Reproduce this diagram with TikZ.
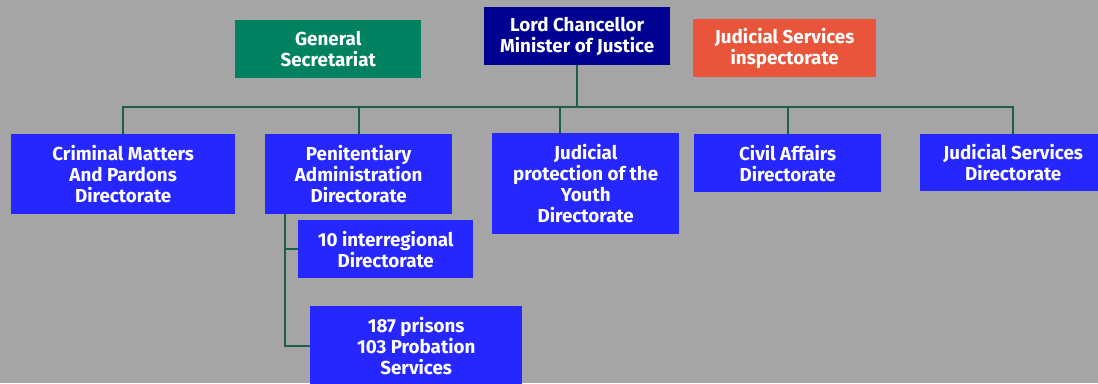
\documentclass[tikz,border=0pt]{standalone}
\usepackage{fontspec}
\setmainfont{Fira Sans}
\definecolor{bg}{RGB}{165,165,165}
\definecolor{boxblue}{RGB}{38,38,255}
\definecolor{navy}{RGB}{0,0,145}
\definecolor{gsgreen}{RGB}{0,130,96}
\definecolor{orng}{RGB}{232,85,58}
\definecolor{linegreen}{RGB}{30,95,75}
\begin{document}
\begin{tikzpicture}[x=1pt,y=-1pt,
  org/.style={fill=boxblue,text=white,font=\bfseries\fontsize{18.8}{21}\selectfont,align=center,inner sep=0pt,anchor=north west},
  conn/.style={draw=linegreen,line width=1.6pt}]
\clip (0,0) rectangle (1098,383);
\fill[bg] (0,0) rectangle (1098,383);
% boxes
\node[org,fill=gsgreen,minimum width=186pt,minimum height=58pt] (gs) at (235,20) {General\\Secretariat};
\node[org,fill=navy,minimum width=186pt,minimum height=58pt] (lc) at (484,7) {Lord Chancellor\\Minister of Justice};
\node[org,fill=orng,minimum width=183pt,minimum height=58pt] (jsi) at (693,19) {Judicial Services\\inspectorate};
\node[org,minimum width=224pt,minimum height=80pt] (cm) at (11,134) {Criminal Matters\\And Pardons\\Directorate};
\node[org,minimum width=187pt,minimum height=80pt] (pa) at (265,134) {Penitentiary\\Administration\\Directorate};
\node[org,minimum width=187pt,minimum height=101pt] (jp) at (492,133) {Judicial\\protection of the\\Youth\\Directorate};
\node[org,minimum width=187pt,minimum height=58pt] (ca) at (694,134) {Civil Affairs\\Directorate};
\node[org,minimum width=186pt,minimum height=57pt] (jsd) at (920,134) {Judicial Services\\Directorate};
\node[org,minimum width=175pt,minimum height=58pt] (ir) at (298,220) {10 interregional\\Directorate};
\node[org,minimum width=212pt,minimum height=80pt] (pr) at (310,306) {187 prisons\\103 Probation\\Services};
% connectors
\coordinate (bus) at (0,107);
\coordinate (jpdrop) at ([xshift=-25.5pt]jp.north);
\coordinate (sub) at ([xshift=-73.5pt]pa.south);
\draw[conn] (lc.south) -- (lc.south |- bus);
\draw[conn] (cm.north) -- (cm.north |- bus) -- (jsd.north |- bus) -- (jsd.north);
\draw[conn] (pa.north) -- (pa.north |- bus);
\draw[conn] (jpdrop) -- (jpdrop |- bus);
\draw[conn] (ca.north) -- (ca.north |- bus);
\draw[conn] (sub) |- (pr.west);
\draw[conn] (sub |- ir.west) -- (ir.west);
\end{tikzpicture}
\end{document}
